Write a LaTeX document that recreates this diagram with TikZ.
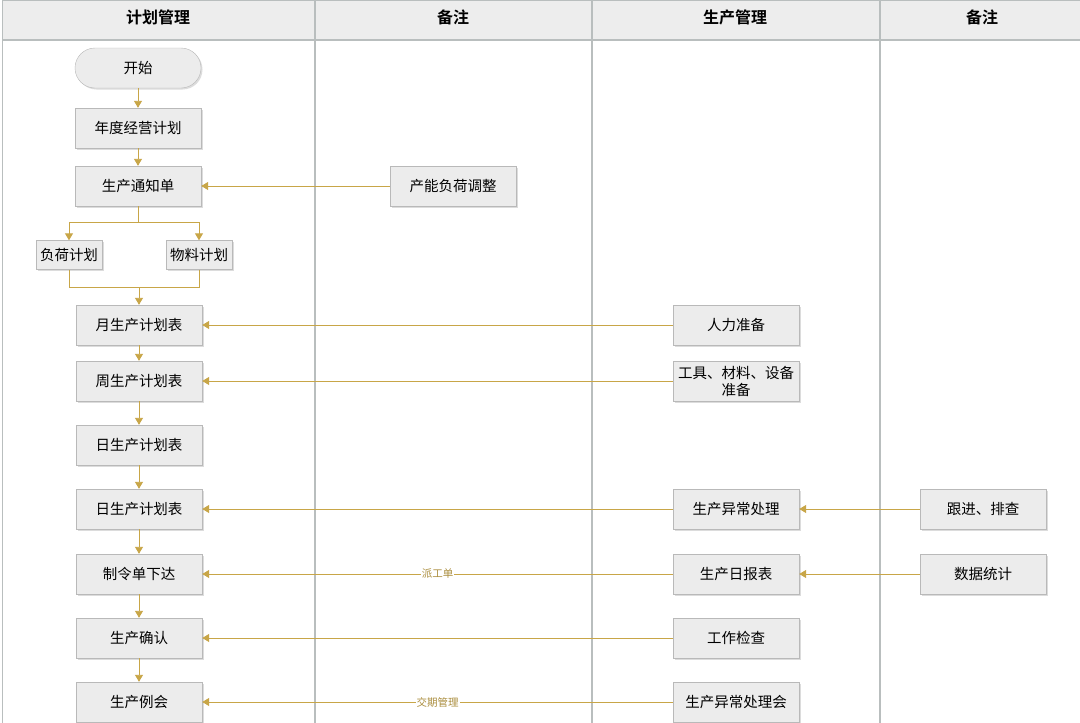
\documentclass[tikz,border=0pt]{standalone}
\usepackage{fontspec}
\setmainfont{Noto Sans CJK SC}[BoldFont={Noto Sans CJK SC Bold}]
\usetikzlibrary{arrows.meta,shadows}
\definecolor{gold}{RGB}{200,166,72}
\definecolor{boxfill}{RGB}{236,236,236}
\definecolor{lanegray}{RGB}{185,190,190}
\begin{document}
\begin{tikzpicture}[x=1pt,y=-1pt,
  box/.style={draw=gray!55, fill=boxfill, minimum width=126pt, minimum height=40pt, inner sep=1pt,
    font=\fontsize{14.5}{17}\selectfont, align=center,
    drop shadow={shadow xshift=1.5pt, shadow yshift=-1.5pt, fill=gray!45, opacity=0.6}},
  smallbox/.style={box, minimum width=66pt, minimum height=29pt},
  pill/.style={box, rounded corners=20pt},
  flow/.style={draw=gold, line width=0.9pt, -{Triangle[width=8pt,length=7pt]}},
  plain/.style={draw=gold, line width=0.9pt},
  lbl/.style={fill=white, text=gold!85!black, font=\fontsize{10.5}{12}\selectfont, inner sep=1pt},
  head/.style={font=\fontsize{16}{18}\selectfont\bfseries}]
\useasboundingbox (0,0) rectangle (1080,723);
\fill[white] (0,0) rectangle (1080,723);
\fill[gray!14] (2,0) rectangle (1080,40);
\draw[lanegray, line width=1pt] (2,0) -- (2,723);
\draw[lanegray, line width=1pt] (2,0.5) -- (1080,0.5);
\draw[lanegray, line width=1.3pt] (2,40) -- (1080,40);
\foreach \x in {315,592,880} \draw[lanegray, line width=1.2pt] (\x,0) -- (\x,723);
\node[head] (h1) at (158,17) {计划管理};
\node[head] (h2) at (453,17) {备注};
\node[head] (h3) at (735,17) {生产管理};
\node[head] (h4) at (982,17) {备注};

\node[pill] (start) at (138,68) {开始};
\node[box] (annual) at (138,128) {年度经营计划};
\node[box] (notice) at (138,186) {生产通知单};
\node[box] (adj) at (453,186) {产能负荷调整};
\node[smallbox] (load) at (69,255) {负荷计划};
\node[smallbox] (mat) at (199,255) {物料计划};
\node[box] (month) at (139,325) {月生产计划表};
\node[box] (hr) at (736,325) {人力准备};
\node[box] (week) at (139,381) {周生产计划表};
\node[box, inner sep=0pt] (tools) at (736,381) {工具、材料、设备\\准备};
\node[box] (day1) at (139,445) {日生产计划表};
\node[box] (day2) at (139,509) {日生产计划表};
\node[box] (exc) at (736,509) {生产异常处理};
\node[box] (follow) at (983,509) {跟进、排查};
\node[box] (order) at (139,574) {制令单下达};
\node[box] (report) at (736,574) {生产日报表};
\node[box] (stats) at (983,574) {数据统计};
\node[box] (confirm) at (139,638) {生产确认};
\node[box] (check) at (736,638) {工作检查};
\node[box] (meet) at (139,702) {生产例会};
\node[box] (meet2) at (736,702) {生产异常处理会};

\draw[flow] (start) -- (annual);
\draw[flow] (annual) -- (notice);
\coordinate (sp) at (138,222);
\draw[plain] (notice.south) -- (sp);
\draw[flow] (sp) -| (load.north);
\draw[flow] (sp) -| (mat.north);
\coordinate (mg) at (139,287);
\draw[plain] (load.south) |- (mg);
\draw[plain] (mat.south) |- (mg);
\draw[flow] (mg) -- (month);
\draw[flow] (month) -- (week);
\draw[flow] (week) -- (day1);
\draw[flow] (day1) -- (day2);
\draw[flow] (day2) -- (order);
\draw[flow] (order) -- (confirm);
\draw[flow] (confirm) -- (meet);

\draw[flow] (adj) -- (notice);
\draw[flow] (hr) -- (month);
\draw[flow] (tools) -- (week);
\draw[flow] (exc) -- (day2);
\draw[flow] (follow) -- (exc);
\draw[flow] (report) -- node[lbl] {派工单} (order);
\draw[flow] (stats) -- (report);
\draw[flow] (check) -- (confirm);
\draw[flow] (meet2) -- node[lbl] {交期管理} (meet);
\end{tikzpicture}
\end{document}
